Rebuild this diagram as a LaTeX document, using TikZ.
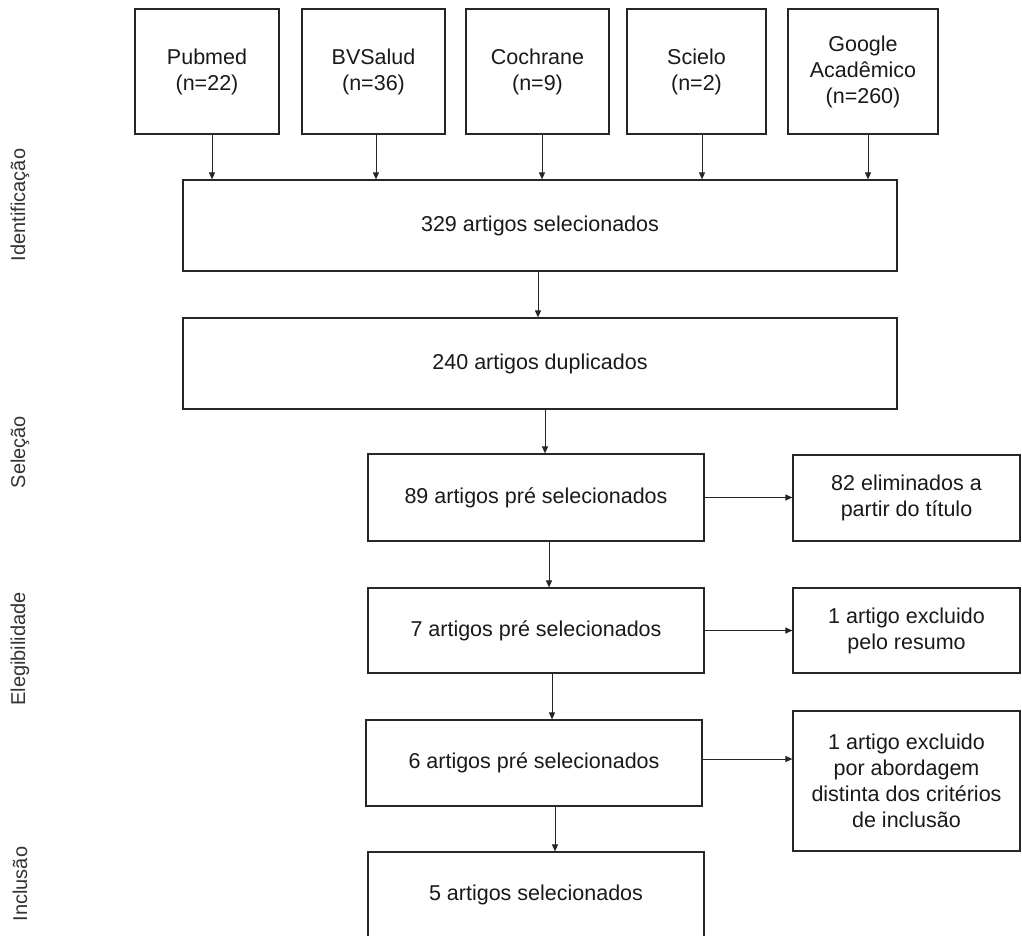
\documentclass[tikz,border=0pt]{standalone}
\usepackage{fontspec}
\setmainfont{Liberation Sans}
\usetikzlibrary{arrows.meta,calc}
\begin{document}
\begin{tikzpicture}[x=1pt,y=-1pt,
  box/.style={draw=black!85, line width=1.2pt, align=center, inner sep=2pt,
    font=\fontsize{21.5}{26}\selectfont, text=black!90},
  side/.style={rotate=90, font=\fontsize{20}{24}\selectfont, text=black!80},
  arr/.style={-{Triangle[length=7pt,width=6pt]}, line width=1pt, draw=black!85}]
\useasboundingbox (0,0) rectangle (1022,935);
% top sources
\node[box, minimum width=144pt, minimum height=125pt] (pub) at (207,71.5) {Pubmed\\(n=22)};
\node[box, minimum width=143pt, minimum height=125pt] (bvs) at (373.5,71.5) {BVSalud\\(n=36)};
\node[box, minimum width=143pt, minimum height=125pt] (coc) at (537.5,71.5) {Cochrane\\(n=9)};
\node[box, minimum width=139pt, minimum height=125pt] (sci) at (696.5,71.5) {Scielo\\(n=2)};
\node[box, minimum width=150pt, minimum height=125pt] (goo) at (863,71.5) {Google\\Acadêmico\\(n=260)};
% main column
\node[box, minimum width=714pt, minimum height=91pt] (sel) at (540,225.5) {329 artigos selecionados};
\node[box, minimum width=714pt, minimum height=91pt] (dup) at (540,363.5) {240 artigos duplicados};
\node[box, minimum width=336pt, minimum height=87pt] (pre89) at (536,497.5) {89 artigos pré selecionados};
\node[box, minimum width=336pt, minimum height=85pt] (pre7) at (536,630.5) {7 artigos pré selecionados};
\node[box, minimum width=336pt, minimum height=86pt] (pre6) at (534,763) {6 artigos pré selecionados};
\node[box, minimum width=336pt, minimum height=86pt] (fin) at (536,895) {5 artigos selecionados};
% exclusions
\node[box, minimum width=227pt, minimum height=86pt] (ex1) at (906.5,498) {82 eliminados a\\partir do título};
\node[box, minimum width=227pt, minimum height=85pt] (ex2) at (906.5,630.5) {1 artigo excluido\\pelo resumo};
\node[box, minimum width=227pt, minimum height=140pt] (ex3) at (906.5,781) {1 artigo excluido\\por abordagem\\distinta dos critérios\\de inclusão};
% side labels
\node[side] (l1) at (20,205) {Identificação};
\node[side] (l2) at (20,452) {Seleção};
\node[side] (l3) at (20,649) {Elegibilidade};
\node[side] (l4) at (20,884) {Inclusão};
% connectors
\draw[arr] ([xshift=5pt]pub.south) -- ([xshift=5pt]pub.south |- sel.north);
\draw[arr] ([xshift=2.5pt]bvs.south) -- ([xshift=2.5pt]bvs.south |- sel.north);
\draw[arr] ([xshift=4.5pt]coc.south) -- ([xshift=4.5pt]coc.south |- sel.north);
\draw[arr] ([xshift=5.5pt]sci.south) -- ([xshift=5.5pt]sci.south |- sel.north);
\draw[arr] ([xshift=5pt]goo.south) -- ([xshift=5pt]goo.south |- sel.north);
\draw[arr] ([xshift=-2pt]sel.south) -- ([xshift=-2pt]sel.south |- dup.north);
\draw[arr] ([xshift=9pt]pre89.north |- dup.south) -- ([xshift=9pt]pre89.north);
\draw[arr] ([xshift=13pt]pre89.south) -- ([xshift=13pt]pre89.south |- pre7.north);
\draw[arr] ([xshift=16pt]pre7.south) -- ([xshift=16pt]pre7.south |- pre6.north);
\draw[arr] ([xshift=21pt]pre6.south) -- ([xshift=21pt]pre6.south |- fin.north);
\draw[arr] (pre89.east) -- (pre89.east -| ex1.west);
\draw[arr] (pre7.east) -- (pre7.east -| ex2.west);
\draw[arr] ([yshift=4pt]pre6.east) -- ([yshift=4pt]pre6.east -| ex3.west);
\end{tikzpicture}
\end{document}
